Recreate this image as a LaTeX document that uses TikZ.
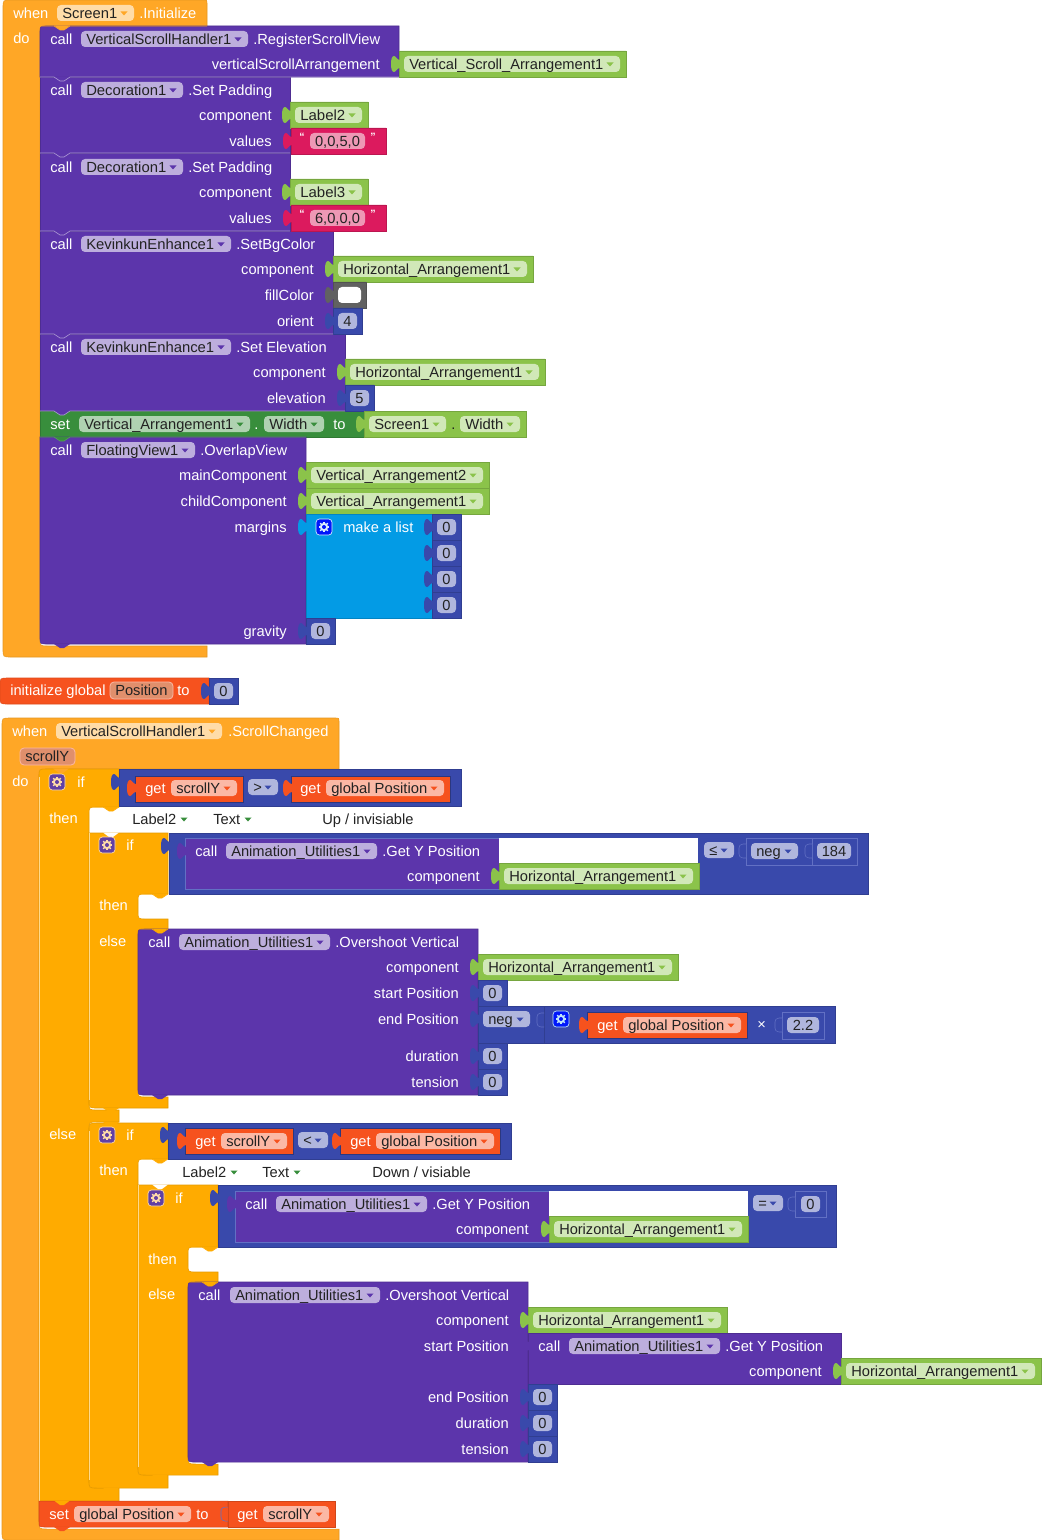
\documentclass[tikz,border=0pt]{standalone}
\usepackage{fontspec}
\usepackage{graphicx}
\setmainfont{Liberation Sans}
\definecolor{evt}{HTML}{FFA726}
\definecolor{ctl}{HTML}{FFAB00}
\definecolor{pur}{HTML}{5C35AB}
\definecolor{pufl}{HTML}{BDAEDD}
\definecolor{grn}{HTML}{8BC34A}
\definecolor{gfl}{HTML}{D1E8B8}
\definecolor{pnk}{HTML}{DC1A5E}
\definecolor{pfl}{HTML}{EE98B5}
\definecolor{blu}{HTML}{3949AB}
\definecolor{bfl}{HTML}{B0B6DD}
\definecolor{bli}{HTML}{6270C4}
\definecolor{lst}{HTML}{039BE5}
\definecolor{vrr}{HTML}{F6521E}
\definecolor{vfl}{HTML}{FBB8A5}
\definecolor{sgn}{HTML}{388E3C}
\definecolor{sfl}{HTML}{AFD2B1}
\definecolor{evf}{HTML}{FFDCA8}
\definecolor{par}{HTML}{E08F6C}
\definecolor{ink}{HTML}{222222}
\definecolor{gry}{HTML}{616161}
\newcounter{tn}
\tikzset{
  lbw/.style={inner sep=0pt,text height=9pt,text depth=1pt,text=white,font=\fontsize{11}{13}\selectfont},
  lbd/.style={lbw,text=ink},
  qt/.style={inner sep=0pt,text=white,font=\fontsize{8}{9}\selectfont\bfseries},
}
% rounded block: x1 y1 x2 y2 rTL rBL colour
\newcommand\rb[7]{\path[fill=#7,draw=#7!85!black,line width=.4pt]
  ({#1},{#2+#5}) .. controls ({#1},{#2}) .. ({#1+#5},{#2}) -- ({#3},{#2}) -- ({#3},{#4}) -- ({#1+#6},{#4}) .. controls ({#1},{#4}) .. ({#1},{#4-#6}) -- cycle;}
\newcommand\blk[5]{\rb{#1}{#2}{#3}{#4}{0}{0}{#5}}
% nested reporter with blue-dark outline
\newcommand\gb[4]{\path[fill=vrr,draw=blu!75!black,line width=.6pt] ({#1},{#3}) rectangle ({#2},{#4});}
\newcommand\ob[4]{\path[draw=bli,line width=.5pt] ({#1},{#3}) rectangle ({#2},{#4});}
% statement tab: x x2 y fill edge
\newcommand\vt[5]{\fill[#4] ({#1+14},{#3-.5}) -- ({#1+20},{#3+4}) -- ({#1+24},{#3+4}) -- ({#1+30},{#3-.5}) -- cycle;
  \draw[#5,line width=.5pt] ({#1},{#3}) -- ({#1+14},{#3}) -- ({#1+20},{#3+4}) -- ({#1+24},{#3+4}) -- ({#1+30},{#3}) -- ({#2},{#3});}
% socket: x yc fill
\newcommand\sk[3]{\path[fill=#3] ({#1+1},{#2-4}) .. controls ({#1-2},{#2-4}) and ({#1-3},{#2-8}) .. ({#1-5},{#2-8}) .. controls ({#1-7},{#2-8}) and ({#1-8},{#2-5}) .. ({#1-8},{#2}) .. controls ({#1-8},{#2+5}) and ({#1-7},{#2+8}) .. ({#1-5},{#2+8}) .. controls ({#1-3},{#2+8}) and ({#1-2},{#2+4}) .. ({#1+1},{#2+4}) -- cycle;}
\newcommand\skin[3]{\path[fill=#3,draw=bli,line width=.4pt] ({#1},{#2-7}) -- ({#1-3},{#2-7}) .. controls ({#1-6},{#2-7}) and ({#1-7},{#2-5}) .. ({#1-7},{#2-3}) -- ({#1-7},{#2+3}) .. controls ({#1-7},{#2+5}) and ({#1-6},{#2+7}) .. ({#1-3},{#2+7}) -- ({#1},{#2+7});}
% labels
\newcommand\lw[3]{\stepcounter{tn}\node[lbw,anchor=west] (t\arabic{tn}) at ({#1},{#2}) {#3};}
\newcommand\lx[3]{\stepcounter{tn}\node[lbw,anchor=east] (t\arabic{tn}) at ({#1},{#2}) {#3};}
\newcommand\ld[3]{\stepcounter{tn}\node[lbd,anchor=west] (t\arabic{tn}) at ({#1},{#2}) {#3};}
\newcommand\qq[3]{\stepcounter{tn}\node[qt] (t\arabic{tn}) at ({#1},{#2}) {#3};}
\newcommand\tri[3]{\fill[#3] ({#1-3.5},{#2-1.5}) -- ({#1+3.5},{#2-1.5}) -- ({#1},{#2+2.5}) -- cycle;}
% dropdown field: x1 x2 yc fill arrow text
\newcommand\fd[6]{\fill[#4,rounded corners=3pt] ({#1},{#3-8}) rectangle ({#2},{#3+8});
  \pgfmathsetmacro\fwd{((#2)-(#1)-22)*0.75}\stepcounter{tn}
  \node[lbd,anchor=west] (t\arabic{tn}) at ({#1+5},{#3}) {\resizebox{\fwd pt}{\height}{#6}};
  \tri{#2-10}{#3}{#5}}
% field with natural text
\newcommand\fn[6]{\fill[#4,rounded corners=3pt] ({#1},{#3-8}) rectangle ({#2},{#3+8});
  \stepcounter{tn}\node[lbd,anchor=west] (t\arabic{tn}) at ({#1+5},{#3}) {#6};
  \tri{#2-10}{#3}{#5}}
% number field
\newcommand\nf[4]{\fill[#4,rounded corners=3pt] ({#1},{#3-8}) rectangle ({#2},{#3+8});}
\newcommand\nm[3]{\stepcounter{tn}\node[lbd] (t\arabic{tn}) at ({#1},{#2}) {#3};}
% number block: x ytop text
\newcommand\num[3]{\blk{#1}{#2}{#1+29}{#2+26}{blu}\sk{#1}{#2+13}{blu}\nf{#1+5}{#1+24}{#2+13}{bfl}\nm{#1+14.5}{#2+13}{#3}}
% component block: x1 x2 ytop text
\newcommand\cmp[4]{\blk{#1}{#3}{#2}{#3+26}{grn}\sk{#1}{#3+13}{grn}\fd{#1+5}{#2-6}{#3+13}{gfl}{grn}{#4}}
% gear: x y box icon
\newcommand\gr[4]{\path[fill=#3,draw=#4,line width=.5pt,rounded corners=2.5pt] ({#1},{#2}) rectangle ({#1+16},{#2+16});
  \fill[#4] ({#1+8},{#2+8}) circle[radius=4.2];
  \foreach \a in {0,45,...,315}{\draw[#4,line width=1pt] ({#1+8},{#2+8}) -- ++(\a:5.4);}
  \fill[#3] ({#1+8},{#2+8}) circle[radius=2];}
% call header: x ytop field-x1 field-x2 field-text method
\newcommand\call[6]{\lw{#1+10}{#2+12}{call}\fd{#3}{#4}{#2+12}{pufl}{pur}{#5}\lw{#4+5}{#2+12}{#6}}
\begin{document}
\begin{tikzpicture}[x=0.75pt,y=-0.75pt]
\useasboundingbox (0,0) rectangle (1041,1540);
\fill[white] (0,0) rectangle (1041,1540);
%% ---------- Screen1.Initialize
\path[fill=evt,draw=evt!90!black,line width=.4pt] (3,8) .. controls (3,0) .. (11,0) -- (204,0) .. controls (207,0) .. (207,3) -- (207,26) -- (48,26) .. controls (40,26) .. (40,34) -- (40,638) .. controls (40,646) .. (48,646) -- (207,646) -- (207,657) -- (11,657) .. controls (3,657) .. (3,649) -- cycle;
\lw{13}{13}{when}\fd{57}{134}{13}{evf}{evt}{Screen1}\lw{139}{13}{.Initialize}
\lw{13}{38}{do}
\rb{40}{26}{399}{77}{7}{0}{pur}
\blk{40}{77}{290}{153}{pur}
\blk{40}{153}{290}{231}{pur}
\blk{40}{231}{333}{334}{pur}
\blk{40}{334}{345}{411}{pur}
\blk{40}{411}{364}{437}{sgn}
\rb{40}{437}{306}{644}{0}{7}{pur}
% values
\cmp{399}{626}{51}{Vertical\_Scroll\_Arrangement1}
\call{40}{27}{81}{248}{VerticalScrollHandler1}{.RegisterScrollView}
\lx{380}{64}{verticalScrollArrangement}
\call{40}{78}{81}{183}{Decoration1}{.Set Padding}
\lx{272}{115}{component}\cmp{290}{368}{102}{Label2}
\lx{272}{141}{values}
\blk{291}{128}{386}{154}{pnk}\sk{291}{141}{pnk}\nf{310}{365}{141}{pfl}\nm{337.5}{141}{0,0,5,0}
\qq{302}{137}{“}\qq{373}{137}{”}
\call{40}{155}{81}{183}{Decoration1}{.Set Padding}
\lx{272}{192}{component}\cmp{290}{368}{179}{Label3}
\lx{272}{218}{values}
\blk{291}{205}{386}{231}{pnk}\sk{291}{218}{pnk}\nf{310}{365}{218}{pfl}\nm{337.5}{218}{6,0,0,0}
\qq{302}{214}{“}\qq{373}{214}{”}
\call{40}{232}{81}{231}{KevinkunEnhance1}{.SetBgColor}
\lx{314}{269}{component}\cmp{333}{533}{256}{Horizontal\_Arrangement1}
\lx{314}{295}{fillColor}
\blk{333}{282}{366}{308}{gry}\sk{333}{295}{gry}\fill[white,rounded corners=3pt] (338,287) rectangle (361,303);
\lx{314}{321}{orient}\num{333}{308}{4}
\call{40}{335}{81}{231}{KevinkunEnhance1}{.Set Elevation}
\lx{326}{372}{component}\cmp{345}{545}{359}{Horizontal\_Arrangement1}
\lx{326}{398}{elevation}\num{345}{385}{5}
% set
\lw{50}{424}{set}\fd{79}{250}{424}{sfl}{sgn}{Vertical\_Arrangement1}\lw{254}{424}{.}\fd{264}{324}{424}{sfl}{sgn}{Width}\lw{333}{424}{to}
\blk{364}{411}{526}{437}{grn}\sk{364}{424}{grn}\fd{369}{446}{424}{gfl}{grn}{Screen1}\ld{451}{424}{.}\fd{460}{520}{424}{gfl}{grn}{Width}
% overlap
\call{40}{438}{81}{195}{FloatingView1}{.OverlapView}
\lx{287}{475}{mainComponent}\cmp{306}{489}{462}{Vertical\_Arrangement2}
\lx{287}{501}{childComponent}\cmp{306}{489}{488}{Vertical\_Arrangement1}
\lx{287}{527}{margins}
\blk{306}{514}{432}{618}{lst}\sk{306}{527}{lst}
\gr{316}{519}{blue!85!lst}{white!85!lst}\lw{343}{527}{make a list}
\num{432}{514}{0}\num{432}{540}{0}\num{432}{566}{0}\num{432}{592}{0}
\lx{287}{631}{gravity}\num{306}{618}{0}
% tabs
\vt{40}{207}{26}{evt}{evt}
\vt{40}{399}{77}{pur}{white!50!pur}
\vt{40}{290}{153}{pur}{white!50!pur}
\vt{40}{290}{231}{pur}{white!50!pur}
\vt{40}{333}{334}{pur}{white!50!pur}
\vt{40}{345}{411}{pur}{white!50!pur}
\vt{40}{306}{437}{sgn}{sgn!85!white}
\fill[pur] (54,644) -- (60,648) -- (64,648) -- (70,644) -- cycle;
%% ---------- initialize global
\path[fill=vrr,draw=vrr!90!black,line width=.4pt] (0,686) .. controls (0,678) .. (8,678) -- (209,678) -- (209,704) -- (8,704) .. controls (0,704) .. (0,696) -- cycle;
\lw{10}{690}{initialize global}
\path[fill=par,draw=vfl,line width=.6pt,rounded corners=3pt] (110,682) rectangle (173,699);
\ld{115}{690}{Position}\lw{177}{690}{to}
\num{209}{678}{0}
%% ---------- ScrollChanged
\path[fill=evt,draw=evt!90!black,line width=.4pt] (2,726) .. controls (2,718) .. (10,718) -- (336,718) .. controls (339,718) .. (339,721) -- (339,769) -- (47,769) .. controls (39,769) .. (39,777) -- (39,1521) .. controls (39,1529) .. (47,1529) -- (339,1529) -- (339,1540) -- (10,1540) .. controls (2,1540) .. (2,1532) -- cycle;
\lw{12}{731}{when}\fd{56}{222}{731}{evf}{evt}{VerticalScrollHandler1}\lw{228}{731}{.ScrollChanged}
\path[fill=par,draw=vfl,line width=.6pt,rounded corners=3pt] (20,748) rectangle (75,765);
\ld{25}{756}{scrollY}
\lw{12}{781}{do}
% outer if
\path[fill=ctl,draw=ctl!90!black,line width=.4pt] (39,777) .. controls (39,769) .. (47,769) -- (119,769) -- (119,807) -- (97,807) .. controls (89,807) .. (89,815) -- (89,1102) .. controls (89,1110) .. (97,1110) -- (119,1110) -- (119,1122) -- (97,1122) .. controls (89,1122) .. (89,1130) -- (89,1480) .. controls (89,1488) .. (97,1488) -- (119,1488) -- (119,1501) -- (39,1501) -- cycle;
\draw[white!55!ctl,line width=.5pt] (39.5,777) -- (39.5,1501);
\fill[evt] (53,768.5) -- (59,773) -- (63,773) -- (69,768.5) -- cycle;
\gr{49}{774}{pur!85!gray}{evf}\lw{77}{782}{if}\lw{49}{818}{then}\lw{49}{1134}{else}
% condition 1
\blk{119}{769}{461}{806}{blu}\sk{119}{782}{blu}
\gb{135}{243}{776}{802}\sk{135}{788}{vrr}\lw{145}{788}{get}\fd{171}{237}{788}{vfl}{vrr}{scrollY}
\fn{248}{278}{787}{bfl}{blu}{>}
\gb{291}{450}{776}{802}\sk{291}{788}{vrr}\lw{300}{788}{get}\fd{326}{444}{788}{vfl}{vrr}{global Position}
\vt{89}{119}{807}{ctl}{ctl}
% label row
\ld{132}{819}{Label2}\tri{184}{819}{sgn}\ld{213}{819}{Text}\tri{248}{819}{sgn}\ld{322}{819}{Up / invisiable}
% if 2
\path[fill=ctl,draw=ctl!90!black,line width=.4pt] (89,833) -- (168,833) -- (168,894) -- (146,894) .. controls (138,894) .. (138,902) -- (138,911) .. controls (138,919) .. (146,919) -- (168,919) -- (168,929) -- (146,929) .. controls (138,929) .. (138,937) -- (138,1089) .. controls (138,1097) .. (146,1097) -- (168,1097) -- (168,1108) -- (97,1108) .. controls (89,1108) .. (89,1100) -- cycle;
\draw[white!55!ctl,line width=.5pt] (89.5,833) -- (89.5,1100);
\fill[white] (103,832.5) -- (109,837) -- (113,837) -- (119,832.5) -- cycle;
\gr{99}{837}{pur!85!gray}{evf}\lw{126}{845}{if}\lw{99}{905}{then}\lw{99}{941}{else}
\blk{169}{833}{868}{894}{blu}\sk{169}{846}{blu}
\path[fill=pur,draw=bli,line width=.5pt] (185,838) rectangle (499,889);\sk{185}{851}{pur}
\call{185}{839}{226}{377}{Animation\_Utilities1}{.Get Y Position}
\lx{480}{876}{component}
\fill[white] (499,838) rectangle (698,863);
\cmp{499}{699}{863}{Horizontal\_Arrangement1}
\fn{704}{734}{850}{bfl}{blu}{≤}
\ob{746}{812}{838}{865}\skin{746}{851}{blu}\fn{751}{798}{851}{bfl}{blu}{neg}
\ob{812}{857}{838}{865}\skin{812}{851}{blu}\nf{817}{851}{851}{bfl}\nm{834}{851}{184}
\vt{138}{168}{894}{ctl}{ctl}
% overshoot 1
\rb{138}{929}{478}{1095}{7}{7}{pur}
\vt{138}{168}{929}{ctl}{ctl}
\call{138}{930}{179}{330}{Animation\_Utilities1}{.Overshoot Vertical}
\fill[pur] (152,1095) -- (158,1099) -- (162,1099) -- (168,1095) -- cycle;
\lx{459}{967}{component}\cmp{478}{678}{954}{Horizontal\_Arrangement1}
\lx{459}{993}{start Position}\num{478}{980}{0}
\lx{459}{1019}{end Position}
\blk{478}{1006}{544}{1043}{blu}\sk{478}{1019}{blu}\fn{483}{530}{1019}{bfl}{blu}{neg}
\blk{544}{1006}{835}{1043}{blu}\skin{544}{1020}{blu}
\gr{553}{1011}{blue!85!lst}{white!75!lst}
\gb{587}{747}{1012}{1038}\sk{587}{1025}{vrr}\lw{597}{1025}{get}\fd{623}{741}{1025}{vfl}{vrr}{global Position}
\lw{757}{1024}{×}
\ob{782}{824}{1012}{1039}\skin{782}{1025}{blu}\nf{787}{819}{1025}{bfl}\nm{803}{1025}{2.2}
\lx{459}{1056}{duration}\num{478}{1043}{0}
\lx{459}{1082}{tension}\num{478}{1069}{0}
\fill[ctl] (103,1108) -- (109,1112) -- (113,1112) -- (119,1108) -- cycle;
%% if 3
\path[fill=ctl,draw=ctl!90!black,line width=.4pt] (97,1123) -- (168,1123) -- (168,1159) -- (146,1159) .. controls (138,1159) .. (138,1167) -- (138,1467) .. controls (138,1475) .. (146,1475) -- (168,1475) -- (168,1488) -- (97,1488) .. controls (89,1488) .. (89,1480) -- (89,1131) .. controls (89,1123) .. (97,1123) -- cycle;
\draw[white!55!ctl,line width=.5pt] (89.5,1131) -- (89.5,1480);
\fill[ctl] (103,1122) -- (109,1127) -- (113,1127) -- (119,1122) -- cycle;
\gr{99}{1127}{pur!85!gray}{evf}\lw{126}{1135}{if}\lw{99}{1170}{then}
\blk{168}{1123}{511}{1159}{blu}\sk{168}{1135}{blu}
\gb{185}{293}{1128}{1154}\sk{185}{1141}{vrr}\lw{195}{1141}{get}\fd{221}{287}{1141}{vfl}{vrr}{scrollY}
\fn{298}{328}{1140}{bfl}{blu}{<}
\gb{340}{500}{1128}{1154}\sk{340}{1141}{vrr}\lw{350}{1141}{get}\fd{376}{494}{1141}{vfl}{vrr}{global Position}
\vt{138}{168}{1159}{ctl}{ctl}
\ld{182}{1172}{Label2}\tri{234}{1172}{sgn}\ld{262}{1172}{Text}\tri{297}{1172}{sgn}\ld{372}{1172}{Down / visiable}
% if 4
\path[fill=ctl,draw=ctl!90!black,line width=.4pt] (138,1185) -- (218,1185) -- (218,1247) -- (196,1247) .. controls (188,1247) .. (188,1255) -- (188,1264) .. controls (188,1272) .. (196,1272) -- (218,1272) -- (218,1282) -- (196,1282) .. controls (188,1282) .. (188,1290) -- (188,1456) .. controls (188,1464) .. (196,1464) -- (218,1464) -- (218,1475) -- (146,1475) .. controls (138,1475) .. (138,1467) -- cycle;
\draw[white!55!ctl,line width=.5pt] (138.5,1185) -- (138.5,1467);
\fill[white] (152,1184.5) -- (158,1189) -- (162,1189) -- (168,1184.5) -- cycle;
\gr{148}{1190}{pur!85!gray}{evf}\lw{175}{1198}{if}\lw{148}{1259}{then}\lw{148}{1294}{else}
\blk{218}{1185}{836}{1247}{blu}\sk{218}{1198}{blu}
\path[fill=pur,draw=bli,line width=.5pt] (235,1191) rectangle (549,1242);\sk{235}{1204}{pur}
\call{235}{1192}{276}{427}{Animation\_Utilities1}{.Get Y Position}
\lx{529}{1229}{component}
\fill[white] (549,1191) rectangle (748,1216);
\cmp{549}{748}{1216}{Horizontal\_Arrangement1}
\fn{753}{783}{1203}{bfl}{blu}{=}
\ob{795}{826}{1191}{1217}\skin{795}{1204}{blu}\nf{801}{820}{1204}{bfl}\nm{810.5}{1204}{0}
\vt{188}{218}{1247}{ctl}{ctl}
% overshoot 2
\rb{188}{1282}{528}{1462}{7}{7}{pur}
\vt{188}{218}{1282}{ctl}{ctl}
\call{188}{1283}{230}{380}{Animation\_Utilities1}{.Overshoot Vertical}
\fill[pur] (202,1462) -- (208,1466) -- (212,1466) -- (218,1462) -- cycle;
\lx{509}{1320}{component}\cmp{528}{727}{1307}{Horizontal\_Arrangement1}
\lx{509}{1346}{start Position}
\blk{528}{1333}{841}{1384}{pur}\sk{528}{1346}{pur}
\call{528}{1334}{569}{720}{Animation\_Utilities1}{.Get Y Position}
\lx{822}{1371}{component}\cmp{841}{1041}{1358}{Horizontal\_Arrangement1}
\lx{509}{1397}{end Position}\num{528}{1384}{0}
\lx{509}{1423}{duration}\num{528}{1410}{0}
\lx{509}{1449}{tension}\num{528}{1436}{0}
\fill[ctl] (152,1475) -- (158,1479) -- (162,1479) -- (168,1475) -- cycle;
\fill[ctl] (103,1488) -- (109,1492) -- (113,1492) -- (119,1488) -- cycle;
% set global
\rb{39}{1501}{228}{1527}{0}{6}{vrr}
\blk{228}{1501}{335}{1527}{vrr}
\fill[ctl] (54,1500.5) -- (60,1505) -- (64,1505) -- (70,1500.5) -- cycle;
\fill[vrr] (54,1527) -- (60,1531) -- (64,1531) -- (70,1527) -- cycle;
\lw{49}{1514}{set}\fd{74}{191}{1514}{vfl}{vrr}{global Position}\lw{196}{1514}{to}
\skin{228}{1514}{vrr}
\lw{237}{1514}{get}\fd{263}{329}{1514}{vfl}{vrr}{scrollY}
\end{tikzpicture}
\end{document}
